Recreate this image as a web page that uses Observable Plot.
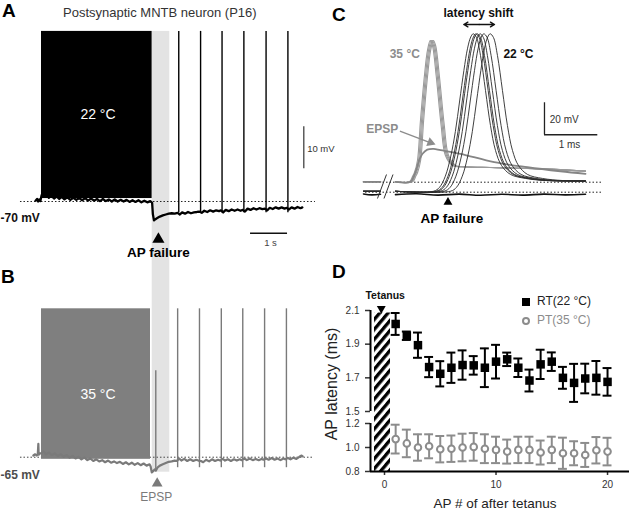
<!DOCTYPE html>
<html><head><meta charset="utf-8">
<script src="https://cdn.jsdelivr.net/npm/d3@7"></script>
<script src="https://cdn.jsdelivr.net/npm/@observablehq/plot@0.6"></script>
<style>
body{margin:0;background:#fff;font-family:"Liberation Sans",Arial,sans-serif;}
#root{position:relative;width:630px;height:513px;overflow:hidden;background:#fff;}
.abs{position:absolute;}
#root svg{display:block;background:transparent !important;overflow:visible !important;font-family:"Liberation Sans",Arial,sans-serif !important;}
.plab{position:absolute;font-weight:bold;font-size:19px;line-height:19px;color:#000;}
.txt{position:absolute;white-space:nowrap;}
</style></head><body>
<svg width="0" height="0" style="position:absolute">
  <defs>
    <pattern id="hatch" patternUnits="userSpaceOnUse" width="10" height="6.4" patternTransform="rotate(-50)">
      <rect x="0" y="0" width="10" height="3.3" fill="#000"></rect>
    </pattern>
  </defs>
</svg>
<div id="root">
  <div id="pA" class="abs" style="left:0;top:0"></div>
  <div id="pB" class="abs" style="left:0;top:260px"></div>
  <div id="pC" class="abs" style="left:320px;top:0"></div>
  <div id="pDtop" class="abs" style="left:330px;top:280px"></div>
  <div id="pDbot" class="abs" style="left:330px;top:413px"></div>
  <div class="plab" style="left:2px;top:1px">A</div>
  <div class="plab" style="left:1px;top:267px">B</div>
  <div class="plab" style="left:332px;top:5px">C</div>
  <div class="plab" style="left:332px;top:262px">D</div>
  <div class="txt" style="left:63px;top:5px;font-size:13px;line-height:15px;color:#333">Postsynaptic MNTB neuron (P16)</div>
  <div class="txt" style="left:232px;top:376px;width:200px;text-align:center;font-size:16px;line-height:16px;color:#222;transform:rotate(-90deg);transform-origin:100px 8px">AP latency (ms)</div>
  <div class="txt" style="left:395px;top:497px;width:200px;text-align:center;font-size:13.5px;line-height:14px;color:#222">AP # of after tetanus</div>
  <div class="abs" style="left:521.6px;top:297.5px;width:8.3px;height:8.3px;background:#000"></div>
  <div class="txt" style="left:537px;top:295.3px;font-size:12px;line-height:12px;color:#222">RT(22 °C)</div>
  <div class="abs" style="left:521.6px;top:316.6px;width:4.3px;height:4.3px;border:2px solid #8c8c8c;border-radius:50%"></div>
  <div class="txt" style="left:537px;top:314.2px;font-size:12px;line-height:12px;color:#8c8c8c">PT(35 °C)</div>
</div>
<script>
// ================= DATA =================
// ---- Panel A (22 °C): time in s, membrane potential in mV ----
const tetanusA = [0, 2.99];
const failBand = [2.992, 3.468];
const spikesA = [3.71, 4.30, 4.88, 5.47, 6.07, 6.66];
const restA = -70;
const traceA = [[-0.16,-69.8],[-0.12,-69.4],[-0.09,-70.0],[-0.06,-69.5],[-0.03,-69.9],[0,-68.6],
 [0.03,-67.9],[0.08,-68.9],[0.14,-68.4],[0.2,-69.1],[0.27,-68.6],[0.34,-69.3],[0.41,-68.8],[0.48,-69.4],[0.55,-68.9],[0.62,-69.5],[0.7,-69.0],[0.78,-69.6],[0.86,-69.1],[0.94,-69.6],[1.02,-69.2],[1.1,-69.7],[1.18,-69.2],[1.26,-69.8],[1.34,-69.3],[1.42,-69.8],[1.5,-69.4],[1.58,-69.9],[1.66,-69.4],[1.74,-69.9],[1.82,-69.5],[1.9,-70.0],[1.98,-69.5],[2.06,-70.0],[2.14,-69.6],[2.22,-70.0],[2.3,-69.6],[2.38,-70.1],[2.46,-69.7],[2.54,-70.1],[2.62,-69.7],[2.7,-70.2],[2.78,-69.8],[2.86,-70.2],[2.94,-69.9],[2.99,-70.3],
 [3.01,-73.0],[3.04,-74.5],[3.08,-74.2],[3.14,-73.9],[3.2,-73.6],[3.28,-73.3],[3.36,-73.1],[3.44,-72.9],[3.52,-72.8],[3.6,-72.9],[3.68,-72.7],
 [3.74,-73.1],[3.8,-72.6],[3.88,-72.9],[3.96,-72.5],[4.04,-72.8],[4.12,-72.6],[4.2,-72.5],[4.26,-72.4],
 [4.33,-72.7],[4.4,-72.2],[4.48,-72.5],[4.56,-72.1],[4.64,-72.4],[4.72,-72.1],[4.8,-72.3],[4.85,-72.1],
 [4.91,-72.6],[4.98,-72.0],[5.06,-72.3],[5.14,-71.9],[5.22,-72.2],[5.3,-71.9],[5.38,-72.2],[5.44,-72.0],
 [5.5,-72.4],[5.57,-71.7],[5.65,-72.0],[5.73,-71.6],[5.81,-71.9],[5.89,-71.6],[5.97,-71.8],[6.04,-71.7],
 [6.1,-72.1],[6.17,-71.5],[6.25,-71.8],[6.33,-71.4],[6.41,-71.7],[6.49,-71.4],[6.57,-71.7],[6.63,-71.5],
 [6.69,-71.9],[6.76,-71.4],[6.84,-71.7],[6.92,-71.3],[7.0,-71.6],[7.05,-71.4]];

// ---- Panel B (35 °C) ----
const tetanusB = [0, 2.946];
const spikesB = [3.68, 4.27, 4.86, 5.44, 6.03, 6.62];
const epspB = [3.089];
const restB = -65;
const traceB = [[-0.22,-64.6],[-0.17,-64.3],[-0.13,-64.6],[-0.1,-64.2],[-0.085,-61.8],[-0.075,-64.4],[-0.04,-64.1],[0,-64.0],
 [0.05,-63.6],[0.12,-64.3],[0.2,-63.9],[0.28,-64.5],[0.36,-64.1],[0.44,-64.7],[0.52,-64.3],[0.6,-64.9],[0.68,-64.5],[0.76,-65.1],[0.84,-64.7],[0.92,-65.3],[1.0,-64.9],[1.08,-65.5],[1.16,-65.1],[1.24,-65.7],[1.32,-65.3],[1.4,-65.9],[1.48,-65.5],[1.56,-66.0],[1.64,-65.7],[1.72,-66.2],[1.8,-65.8],[1.88,-66.3],[1.96,-66.0],[2.04,-66.4],[2.12,-66.1],[2.2,-66.6],[2.28,-66.2],[2.36,-66.7],[2.44,-66.3],[2.52,-66.8],[2.6,-66.4],[2.68,-66.9],[2.76,-66.5],[2.84,-67.0],[2.92,-66.7],[2.95,-67.2],
 [2.98,-68.6],[3.02,-68.3],[3.06,-67.9],[3.09,-68.2],[3.14,-67.4],[3.2,-67.0],[3.28,-66.7],[3.36,-66.4],[3.44,-66.1],[3.52,-66.0],[3.6,-65.8],[3.66,-65.9],
 [3.72,-65.3],[3.78,-65.8],[3.86,-65.4],[3.94,-65.9],[4.02,-65.5],[4.1,-65.9],[4.18,-65.6],[4.24,-65.8],
 [4.31,-65.9],[4.37,-66.2],[4.45,-65.6],[4.53,-66.0],[4.61,-65.5],[4.69,-65.9],[4.77,-65.6],[4.83,-65.8],
 [4.9,-65.4],[4.96,-65.8],[5.04,-65.5],[5.12,-65.9],[5.2,-65.5],[5.28,-65.8],[5.36,-65.5],[5.41,-65.7],
 [5.48,-65.3],[5.55,-65.7],[5.63,-65.3],[5.71,-65.7],[5.79,-65.4],[5.87,-65.7],[5.95,-65.4],[6.0,-65.6],
 [6.07,-65.3],[6.14,-65.6],[6.22,-65.2],[6.3,-65.6],[6.38,-65.3],[6.46,-65.7],[6.54,-65.3],[6.59,-65.5],
 [6.66,-65.2],[6.73,-65.5],[6.81,-65.1],[6.89,-65.4],[6.97,-64.9],[7.03,-64.6],[7.06,-64.8]];

// ---- Panel C: time in ms, mV relative to 22 °C baseline ----
const cPre = [-0.604, -0.283];
const cPostStart = 0;
const cEnd = 3.585;
const base35 = 6.5, base22 = 0.6;
const c35Shape = [[0.283,6.5],[0.34,9.8],[0.377,12.3],[0.434,19.8],[0.491,44.8],[0.566,72.9],[0.623,88.6],[0.674,94.8],[0.717,91.7],[0.787,72.9],[0.881,41.7],[0.962,22.9],[1.094,16.7],[1.321,15.8],[1.792,15.4],[2.736,14.6]];
const c35End = 13.2;
const c35Lat = [-0.02, 0, 0.02, 0.04];
const epspShape = [[0.283,6.5],[0.34,9.5],[0.396,14.5],[0.453,20.5],[0.51,24],[0.60,26.6],[0.72,27.1],[0.85,26.3],[1.226,24],[1.862,18.75],[2.49,15.6],[3.113,13.1]];
const epspEnd = 11.5;
const c22Shape = [[0.717,0.6],[0.83,3],[0.94,10],[1.04,22],[1.13,38],[1.21,57],[1.29,76],[1.36,90],[1.42,97],[1.466,99],[1.528,96.7],[1.604,85.4],[1.698,63.6],[1.792,41.7],[1.887,26.1],[2.0,16.7],[2.17,11.1],[2.453,8.6],[2.83,7.3]];
const c22End = 7.0;
const c22Lat = [0, 0.05, 0.075, 0.13, 0.2, 0.32];
const failPre = [[-0.604,-1.1],[-0.45,-1.7],[-0.283,-1.3]];
const failPost = [[0,-1.5],[0.4,-1.0],[0.8,-1.8],[1.2,-1.2],[1.6,-1.9],[2.0,-1.3],[2.4,-1.8],[2.8,-1.2],[3.2,-1.7],[3.585,-1.3]];
const cRest = [0, 6.25];

// ---- Panel D: AP latency (ms) vs AP # after tetanus ----
const apNumber = [1,2,3,4,5,6,7,8,9,10,11,12,13,14,15,16,17,18,19,20];
const rtMean = [2.02,1.95,1.894,1.764,1.724,1.76,1.776,1.774,1.76,1.796,1.81,1.76,1.684,1.78,1.796,1.70,1.67,1.696,1.70,1.676];
const rtErr  = [0.065,0.025,0.075,0.06,0.075,0.09,0.087,0.055,0.115,0.1,0.04,0.055,0.065,0.087,0.055,0.065,0.113,0.088,0.1,0.082];
const ptMean = [1.07,1.034,1.0,1.01,0.986,0.99,1.0,1.005,0.99,0.98,0.966,0.98,0.98,0.958,0.98,0.952,0.952,0.938,0.977,0.966];
const ptErr  = [0.12,0.115,0.11,0.1,0.11,0.11,0.115,0.115,0.12,0.11,0.1,0.11,0.11,0.1,0.11,0.13,0.1,0.1,0.11,0.115];
const upperTicks = [1.5, 1.7, 1.9, 2.1];
const lowerTicks = [0.8, 1.0, 1.2];
const xTicks = [0, 10, 20];
const tetanusD = [-0.897, 0.538];

// ================= PANEL A =================
const tv = {x: d => d[0], y: d => d[1]};
const A = Plot.plot({
  width: 320, height: 260, margin: 0,
  x: {domain: [-1.108, 7.541], axis: null},
  y: {domain: [-84.05, -22.14], axis: null},
  marks: [
    Plot.rect([failBand], {x1: d => d[0], x2: d => d[1], y1: -84.05, y2: -29.5, fill: "#e3e3e3"}),
    Plot.ruleY([restA], {x1: -0.568, x2: 7.405, stroke: "#222", strokeWidth: 1, strokeDasharray: "1.5,2"}),
    Plot.rect([tetanusA], {x1: d => d[0], x2: d => d[1], y1: -69.3, y2: -29.5, fill: "#000"}),
    Plot.ruleX(spikesA, {y1: -72.7, y2: -29.5, stroke: "#000", strokeWidth: 1.4}),
    Plot.line(traceA, {...tv, stroke: "#000", strokeWidth: 2.3}),
    Plot.text(["22 °C"], {x: 1.527, y: -49.24, fill: "#fff", fontSize: 14}),
    Plot.ruleX([7.09], {y1: -62.21, y2: -52.21, stroke: "#333", strokeWidth: 1.2}),
    Plot.text(["10 mV"], {x: 7.18, y: -57.55, textAnchor: "start", fontSize: 9.5, fill: "#333"}),
    Plot.ruleY([-77.55], {x1: 5.65, x2: 6.65, stroke: "#111", strokeWidth: 1.5}),
    Plot.text(["1 s"], {x: 6.19, y: -79.76, fontSize: 9.5, fill: "#444"}),
    Plot.dot([failBand], {x: 3.16, y: -79.0, symbol: "triangle", r: 4.5, fill: "#000", stroke: null}),
    Plot.text(["AP failure"], {x: 3.16, y: -82.24, fontSize: 13.5, fontWeight: "bold", fill: "#000"}),
    Plot.text(["-70 mV"], {x: -1.108, y: -74.02, textAnchor: "start", fontSize: 12, fontWeight: "bold", fill: "#111"})
  ]
});
document.getElementById("pA").append(A);

// ================= PANEL B =================
const B = Plot.plot({
  width: 320, height: 253, margin: 0,
  x: {domain: [-1.108, 7.541], axis: null},
  y: {domain: [-78.4, -18.17], axis: null},
  marks: [
    Plot.rect([failBand], {x1: d => d[0], x2: d => d[1], y1: -68.57, y2: -18.17, fill: "#e3e3e3"}),
    Plot.ruleY([restB], {x1: -0.568, x2: 7.35, stroke: "#444", strokeWidth: 1, strokeDasharray: "1.5,2"}),
    Plot.rect([tetanusB], {x1: d => d[0], x2: d => d[1], y1: -65.5, y2: -29.67, fill: "#7f7f7f"}),
    Plot.ruleX(spikesB, {y1: -67.5, y2: -29.67, stroke: "#7a7a7a", strokeWidth: 1.4}),
    Plot.ruleX(epspB, {y1: -68.2, y2: -44.4, stroke: "#7a7a7a", strokeWidth: 1.4}),
    Plot.line(traceB, {...tv, stroke: "#7a7a7a", strokeWidth: 2.2}),
    Plot.text(["35 °C"], {x: 1.527, y: -50.02, fill: "#fff", fontSize: 14}),
    Plot.text(["-65 mV"], {x: -1.108, y: -69.24, textAnchor: "start", fontSize: 12, fontWeight: "bold", fill: "#4d4d4d"}),
    Plot.dot(epspB, {x: 3.127, y: -71.24, symbol: "triangle", r: 4, fill: "#7a7a7a", stroke: null}),
    Plot.text(["EPSP"], {x: 3.103, y: -74.4, fontSize: 12, fill: "#7a7a7a"})
  ]
});
document.getElementById("pB").append(B);

// ================= PANEL C =================
function sweepRows(id, base, shape, lat, endV) {
  const rows = [];
  cPre.forEach(t => rows.push({id: id + "-pre", t, v: base}));
  rows.push({id: id + "-post", t: cPostStart, v: base});
  shape.forEach(([t, v]) => rows.push({id: id + "-post", t: t + lat, v}));
  rows.push({id: id + "-post", t: cEnd, v: endV});
  return rows;
}
const rows35 = c35Lat.flatMap((l, i) => sweepRows("p" + i, base35, c35Shape, l, c35End));
const rowsEpsp = sweepRows("epsp", base35, epspShape, 0, epspEnd);
const rows22 = c22Lat.flatMap((l, i) => sweepRows("r" + i, base22, c22Shape, l, c22End));
const rowsFail = [...failPre.map(([t, v]) => ({id: "fpre", t, v})), ...failPost.map(([t, v]) => ({id: "fpost", t, v}))];
const breakMarks = [{x1: -0.340, y1: -3.94, x2: -0.170, y2: 11.06}, {x1: -0.217, y1: -3.94, x2: -0.047, y2: 11.06}];
const lineOpts = {x: "t", y: "v", z: "id", curve: "catmull-rom"};

const C = Plot.plot({
  width: 310, height: 240, margin: 0,
  x: {domain: [-1.4151, 4.434], axis: null},
  y: {domain: [-30.19, 119.81], axis: null},
  marks: [
    Plot.ruleY(cRest, {x1: -0.566, x2: 3.919, stroke: "#222", strokeWidth: 1, strokeDasharray: "1.5,2"}),
    Plot.line(rowsFail, {...lineOpts, stroke: "#111", strokeWidth: 1.6}),
    Plot.line(rows35, {...lineOpts, stroke: "#9a9a9a", strokeWidth: 1.1}),
    Plot.line(rowsEpsp, {...lineOpts, stroke: "#858585", strokeWidth: 1.8}),
    Plot.line(rows22, {...lineOpts, stroke: "#2a2a2a", strokeWidth: 0.9}),
    Plot.link(breakMarks, {x1: "x1", y1: "y1", x2: "x2", y2: "y2", stroke: "#333", strokeWidth: 1}),
    Plot.text(["latency shift"], {x: 1.566, y: 112.2, fontSize: 12, fontWeight: "bold", fill: "#111"}),
    Plot.arrow([{a: 1.578, b: 1.289}, {a: 1.578, b: 1.868}], {x1: "a", x2: "b", y1: 104.8, y2: 104.8, headLength: 5, strokeWidth: 1.4, stroke: "#111"}),
    Plot.text(["35 °C"], {x: 0.175, y: 86.4, fontSize: 12, fontWeight: "bold", fill: "#8c8c8c"}),
    Plot.text(["22 °C"], {x: 2.32, y: 86.4, fontSize: 12, fontWeight: "bold", fill: "#111"}),
    Plot.ruleX([2.811], {y1: 35.9, y2: 55.9, stroke: "#222", strokeWidth: 1.3}),
    Plot.ruleY([35.9], {x1: 2.811, x2: 3.817, stroke: "#222", strokeWidth: 1.3}),
    Plot.text(["20 mV"], {x: 2.911, y: 45.1, textAnchor: "start", fontSize: 10, fill: "#333"}),
    Plot.text(["1 ms"], {x: 3.283, y: 29.75, fontSize: 10, fill: "#333"}),
    Plot.text(["EPSP"], {x: -0.251, y: 39.25, fontSize: 12, fontWeight: "bold", fill: "#8c8c8c"}),
    Plot.link([{}], {x1: 0.083, y1: 38.19, x2: 0.64, y2: 31.2, stroke: "#8c8c8c", strokeWidth: 1.3}),
    Plot.dot([{}], {x: 0.66, y: 30.97, symbol: "triangle", r: 3.5, rotate: 110.4, fill: "#8c8c8c", stroke: null}),
    Plot.dot([{}], {x: 0.99, y: -6.19, symbol: "triangle", r: 3.3, fill: "#000", stroke: null}),
    Plot.text(["AP failure"], {x: 1.062, y: -16.7, fontSize: 13.5, fontWeight: "bold", fill: "#000"})
  ]
});
document.getElementById("pC").append(C);

// ================= PANEL D =================
const rt = apNumber.map((x, i) => ({x, y: rtMean[i], lo: rtMean[i] - rtErr[i], hi: rtMean[i] + rtErr[i]}));
const pt = apNumber.map((x, i) => ({x, y: ptMean[i], lo: ptMean[i] - ptErr[i], hi: ptMean[i] + ptErr[i]}));
const xDom = [-1.256, 21.97];
const capHalf = 0.4;
const gray = "#8c8c8c";

const Dtop = Plot.plot({
  width: 300, height: 143, marginLeft: 40, marginRight: 1, marginTop: 30, marginBottom: 12,
  x: {domain: xDom, axis: null},
  y: {domain: [1.5, 2.1], label: null},
  marks: [
    Plot.rect([tetanusD], {x1: d => d[0], x2: d => d[1], y1: 1.1435, y2: 2.085, fill: "url(#hatch)"}),
    Plot.axisY({ticks: upperTicks, tickFormat: d => d.toFixed(1), tickSize: 5, tickPadding: 6, fontSize: 10, label: null, color: "#333", strokeWidth: 1.5}),
    Plot.ruleX([xDom[0]], {y1: 1.5, y2: 2.1, stroke: "#000", strokeWidth: 2}),
    Plot.ruleX(rt, {x: "x", y1: "lo", y2: "hi", stroke: "#000", strokeWidth: 2}),
    Plot.ruleY(rt, {y: "lo", x1: d => d.x - capHalf, x2: d => d.x + capHalf, stroke: "#000", strokeWidth: 2}),
    Plot.ruleY(rt, {y: "hi", x1: d => d.x - capHalf, x2: d => d.x + capHalf, stroke: "#000", strokeWidth: 2}),
    Plot.dot(rt, {x: "x", y: "y", symbol: "square", r: 4.8, fill: "#000", stroke: null}),
    Plot.dot([tetanusD], {x: -0.29, y: 2.111, symbol: "triangle", rotate: 180, r: 3.3, fill: "#000", stroke: null}),
    Plot.text(["Tetanus"], {x: 0.06, y: 2.19, fontSize: 10.5, fontWeight: "bold", fill: "#111"})
  ]
});
document.getElementById("pDtop").append(Dtop);

const Dbot = Plot.plot({
  width: 300, height: 100, marginLeft: 40, marginRight: 1, marginTop: 10, marginBottom: 42,
  x: {domain: xDom, label: null},
  y: {domain: [0.8, 1.2], label: null},
  marks: [
    Plot.axisY({ticks: lowerTicks, tickFormat: d => d.toFixed(1), tickSize: 5, tickPadding: 6, fontSize: 10, label: null, color: "#333", strokeWidth: 1.5}),
    Plot.axisX({ticks: xTicks, tickSize: 4, tickPadding: 5, fontSize: 10, label: null, color: "#333", strokeWidth: 1.5}),
    Plot.ruleX([xDom[0]], {y1: 0.8, y2: 1.2, stroke: "#000", strokeWidth: 2}),
    Plot.ruleY([0.8], {stroke: "#000", strokeWidth: 2}),
    Plot.ruleX(pt, {x: "x", y1: "lo", y2: "hi", stroke: gray, strokeWidth: 2}),
    Plot.ruleY(pt, {y: "lo", x1: d => d.x - capHalf, x2: d => d.x + capHalf, stroke: gray, strokeWidth: 2}),
    Plot.ruleY(pt, {y: "hi", x1: d => d.x - capHalf, x2: d => d.x + capHalf, stroke: gray, strokeWidth: 2}),
    Plot.dot(pt, {x: "x", y: "y", r: 3.3, fill: "#fff", stroke: gray, strokeWidth: 2})
  ]
});
document.getElementById("pDbot").append(Dbot);
</script>
</body></html>
